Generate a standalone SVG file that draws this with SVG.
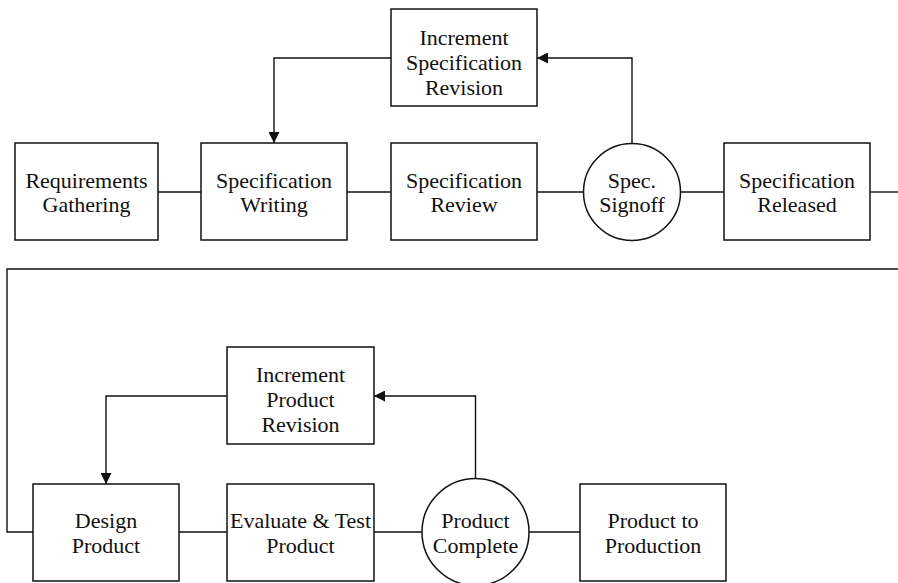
<svg xmlns="http://www.w3.org/2000/svg" width="898" height="583" viewBox="0 0 898 583">
  <style>
    .box { fill: #fff; stroke: #111; stroke-width: 1.5; }
    .lbl { font-family: "Liberation Serif", "DejaVu Serif", serif; font-size: 22px; fill: #111; text-anchor: middle; }
    .wire { fill: none; stroke: #111; stroke-width: 1.4; }
  </style>
  <defs>
    <marker id="arrow" viewBox="0 0 10 10" refX="10" refY="5" markerWidth="11" markerHeight="11" markerUnits="userSpaceOnUse" orient="auto">
      <path d="M0,0 L10,5 L0,10 Z" fill="#111"/>
    </marker>
  </defs>

  <!-- connectors -->
  <g id="connectors">
    <line class="wire" x1="158" y1="192" x2="201" y2="192"/>
    <line class="wire" x1="347" y1="192" x2="391" y2="192"/>
    <line class="wire" x1="537" y1="192" x2="583.5" y2="192"/>
    <line class="wire" x1="680.5" y1="192" x2="724" y2="192"/>
    <line class="wire" x1="870" y1="192" x2="898" y2="192"/>
    <polyline class="wire" points="391,58 274,58 274,143" marker-end="url(#arrow)"/>
    <polyline class="wire" points="632,143.5 632,58 537,58" marker-end="url(#arrow)"/>
    <polyline class="wire" points="898,269 7,269 7,532 33,532"/>
    <line class="wire" x1="179" y1="532" x2="227" y2="532"/>
    <line class="wire" x1="374" y1="532" x2="422" y2="532"/>
    <line class="wire" x1="529" y1="532" x2="580" y2="532"/>
    <polyline class="wire" points="227,396 106,396 106,484" marker-end="url(#arrow)"/>
    <polyline class="wire" points="475.5,479 475.5,396 374,396" marker-end="url(#arrow)"/>
  </g>

  <g id="requirements-gathering">
    <rect class="box" x="15" y="143" width="143" height="97"/>
    <text class="lbl" x="86.5" y="188">Requirements</text>
    <text class="lbl" x="86.5" y="212">Gathering</text>
  </g>

  <g id="specification-writing">
    <rect class="box" x="201" y="143" width="146" height="97"/>
    <text class="lbl" x="274" y="188">Specification</text>
    <text class="lbl" x="274" y="212">Writing</text>
  </g>

  <g id="specification-review">
    <rect class="box" x="391" y="143" width="146" height="97"/>
    <text class="lbl" x="464" y="188">Specification</text>
    <text class="lbl" x="464" y="212">Review</text>
  </g>

  <g id="increment-spec-revision">
    <rect class="box" x="391" y="9" width="146" height="97"/>
    <text class="lbl" x="464" y="45">Increment</text>
    <text class="lbl" x="464" y="70">Specification</text>
    <text class="lbl" x="464" y="95">Revision</text>
  </g>

  <g id="spec-signoff">
    <circle class="box" cx="632" cy="192" r="48.5"/>
    <text class="lbl" x="632" y="188">Spec.</text>
    <text class="lbl" x="632" y="212">Signoff</text>
  </g>

  <g id="specification-released">
    <rect class="box" x="724" y="143" width="146" height="97"/>
    <text class="lbl" x="797" y="188">Specification</text>
    <text class="lbl" x="797" y="212">Released</text>
  </g>

  <g id="increment-product-revision">
    <rect class="box" x="227" y="347" width="147" height="97"/>
    <text class="lbl" x="300.5" y="382">Increment</text>
    <text class="lbl" x="300.5" y="407">Product</text>
    <text class="lbl" x="300.5" y="432">Revision</text>
  </g>

  <g id="design-product">
    <rect class="box" x="33" y="484" width="146" height="97"/>
    <text class="lbl" x="106" y="528">Design</text>
    <text class="lbl" x="106" y="553">Product</text>
  </g>

  <g id="evaluate-test-product">
    <rect class="box" x="227" y="484" width="147" height="97"/>
    <text class="lbl" x="300.5" y="528">Evaluate &amp; Test</text>
    <text class="lbl" x="300.5" y="553">Product</text>
  </g>

  <g id="product-complete">
    <circle class="box" cx="475.5" cy="532" r="53.5"/>
    <text class="lbl" x="475.5" y="528">Product</text>
    <text class="lbl" x="475.5" y="553">Complete</text>
  </g>

  <g id="product-to-production">
    <rect class="box" x="580" y="484" width="146" height="97"/>
    <text class="lbl" x="653" y="528">Product to</text>
    <text class="lbl" x="653" y="553">Production</text>
  </g>
</svg>
